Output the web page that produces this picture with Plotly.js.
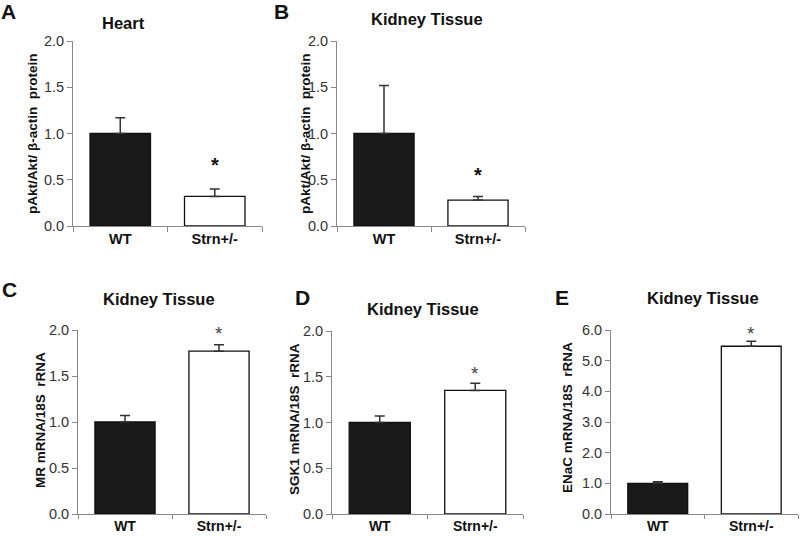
<!DOCTYPE html>
<html>
<head>
<meta charset="utf-8">
<script src="https://cdn.plot.ly/plotly-3.0.1.min.js"></script>
<style>html,body{margin:0;padding:0;background:#fff}#chart{width:800px;height:536px}</style>
</head>
<body>
<div id="chart"></div>
<script>
// ---- data ----
const categories = ["WT", "Strn+/-"];
const heartAktMean = [1.00, 0.32];
const heartAktErr = [0.17, 0.08];
const kidneyAktMean = [1.00, 0.28];
const kidneyAktErr = [0.52, 0.04];
const mrMean = [1.00, 1.77];
const mrErr = [0.07, 0.07];
const sgk1Mean = [1.00, 1.35];
const sgk1Err = [0.07, 0.08];
const enacMean = [1.00, 5.47];
const enacErr = [0.05, 0.16];

const panelLetters = ["A", "B", "C", "D", "E"];
const panelTitles = ["Heart", "Kidney Tissue", "Kidney Tissue", "Kidney Tissue", "Kidney Tissue"];
const yTitles = [
  "pAkt/Akt/ \u03b2-actin\u00a0 protein",
  "pAkt/Akt/ \u03b2-actin\u00a0 protein",
  "MR mRNA/18S\u00a0 rRNA",
  "SGK1 mRNA/18S\u00a0 rRNA",
  "ENaC mRNA/18S\u00a0 rRNA"
];
const means = [heartAktMean, kidneyAktMean, mrMean, sgk1Mean, enacMean];
const errs = [heartAktErr, kidneyAktErr, mrErr, sgk1Err, enacErr];
const yMax = [2, 2, 2, 2, 6];
const yStep = [0.5, 0.5, 0.5, 0.5, 1];

// ---- layout (pixel geometry) ----
const W = 800, H = 536;
const FONT = "Liberation Sans, Arial, sans-serif";
const box = [ // plot area in px: x0, x1, yTop, yBottom
  [73, 262, 41, 226],
  [337, 525, 41, 226],
  [78, 266, 330, 514],
  [332, 523, 331, 514],
  [611, 798, 330, 514]
];
const xLabelSize = [14.5, 14.5, 14, 14, 14];
const xTickLen = [5, 5, 4, 4, 4];
const letterPos = [[8, 11], [281, 11], [9, 289], [302, 297], [562, 297]];
const titlePos = [[123, 23], [427, 19], [159, 299], [423, 309], [703, 298]];
const yTitlePos = [[32, 134], [305, 134], [40, 420], [294, 419], [567, 418]];
const starY = [0.70, 0.595, 2.0, 1.58, 6.0];
const starBold = [true, true, false, false, false];

const data = [];
const layout = {
  width: W, height: H,
  margin: {l: 0, r: 0, t: 0, b: 0},
  paper_bgcolor: "#fff", plot_bgcolor: "#fff",
  showlegend: false,
  font: {family: FONT, color: "#222"},
  annotations: []
};

for (let i = 0; i < 5; i++) {
  const n = i + 1;
  const xa = "x" + (n === 1 ? "" : n), ya = "y" + (n === 1 ? "" : n);
  const xk = "xaxis" + (n === 1 ? "" : n), yk = "yaxis" + (n === 1 ? "" : n);
  const b = box[i];
  data.push({
    type: "bar",
    x: categories,
    y: means[i],
    xaxis: xa, yaxis: ya,
    width: 0.64,
    marker: {
      color: ["#1a1a1a", "#ffffff"],
      line: {color: "#111", width: 1.3}
    },
    error_y: {
      type: "data", symmetric: false,
      array: errs[i], arrayminus: [0, 0],
      color: "#333", thickness: 1.5, width: 5
    },
    hoverinfo: "skip"
  });
  layout[xk] = {
    domain: [b[0] / W, b[1] / W],
    anchor: ya,
    type: "category",
    range: [-0.5, 1.5],
    tickson: "boundaries",
    ticks: "outside", ticklen: xTickLen[i], tickcolor: "#888", tickwidth: 1,
    ticklabelstandoff: i < 2 ? 0 : -1,
    showline: true, linecolor: "#888", linewidth: 1,
    showgrid: false, zeroline: false,
    tickfont: {family: FONT, size: xLabelSize[i], color: "#111", weight: "bold"},
    fixedrange: true
  };
  layout[yk] = {
    domain: [1 - b[3] / H, 1 - b[2] / H],
    anchor: xa,
    range: [0, yMax[i]],
    dtick: yStep[i], tick0: 0,
    tickformat: ".1f",
    ticks: "outside", ticklen: 5, tickcolor: "#888", tickwidth: 1,
    showline: true, linecolor: "#888", linewidth: 1,
    showgrid: false, zeroline: false,
    tickfont: {family: FONT, size: 14.5, color: "#333"},
    fixedrange: true
  };
  layout.annotations.push({
    text: panelLetters[i], xref: "paper", yref: "paper",
    x: letterPos[i][0] / W, y: 1 - letterPos[i][1] / H,
    xanchor: "center", yanchor: "middle", showarrow: false,
    font: {family: FONT, size: 21, color: "#111", weight: "bold"}
  });
  layout.annotations.push({
    text: panelTitles[i], xref: "paper", yref: "paper",
    x: titlePos[i][0] / W, y: 1 - titlePos[i][1] / H,
    xanchor: "center", yanchor: "middle", showarrow: false,
    font: {family: FONT, size: 16.5, color: "#111", weight: "bold"}
  });
  layout.annotations.push({
    text: yTitles[i], xref: "paper", yref: "paper",
    x: yTitlePos[i][0] / W, y: 1 - yTitlePos[i][1] / H,
    xanchor: "center", yanchor: "middle", showarrow: false, textangle: -90,
    font: {family: FONT, size: 13.5, color: "#111", weight: "bold"}
  });
  layout.annotations.push({
    text: "*", xref: xa, yref: ya,
    x: categories[1], y: starY[i],
    xanchor: "center", yanchor: "middle", showarrow: false, yshift: -4,
    font: {family: FONT, size: starBold[i] ? 20 : 19, color: starBold[i] ? "#111" : "#444", weight: starBold[i] ? "bold" : "normal"}
  });
}

Plotly.newPlot("chart", data, layout, {staticPlot: true, displayModeBar: false});
</script>
</body>
</html>
